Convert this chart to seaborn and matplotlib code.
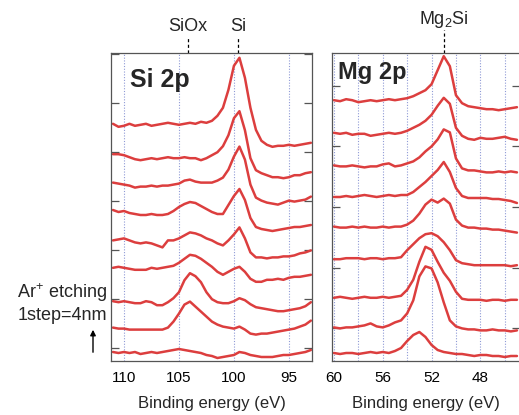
import numpy as np
import pandas as pd
import matplotlib
matplotlib.use("Agg")
import matplotlib.pyplot as plt
import seaborn as sns
from matplotlib.transforms import blended_transform_factory

# ---------------- data ----------------
# Si 2p binding energy grid (eV) and Mg 2p grid (eV)
si_energy = np.arange(111.0, 92.9, -0.5)
mg_energy = np.arange(60.0, 44.9, -0.5)

# Si 2p spectra (relative intensity, arb. units), step 0 = bottom (deepest)
si_step0 = [0,-1,0,-1,0,-2,-1,0,-1,0,1,2,3,2,1,0,-1,-3,-4,-6,-5,-4,-3,0,-1,-3,-4,-5,-5,-5,-4,-3,-3,-2,-1,0,2]
si_step1 = [-4,-5,-5,-6,-6,-6,-6,-6,-6,-6,-4,2,10,19,22,17,12,7,2,-1,-3,-4,-5,-3,-6,-10,-11,-10,-10,-9,-8,-7,-6,-5,-3,-1,3]
si_step2 = [-6,-7,-6,-7,-8,-8,-6,-7,-10,-10,-7,-3,3,15,22,19,13,3,-4,-7,-8,-8,-6,-3,-5,-9,-12,-13,-14,-15,-16,-16,-15,-14,-13,-11,-7]
si_step3 = [-1,0,-1,-2,-3,-3,-3,-1,-2,-1,0,1,4,8,12,11,8,4,0,-5,-8,-5,-2,0,-5,-12,-15,-15,-13,-13,-12,-13,-11,-10,-10,-9,-8]
si_step4 = [-2,-1,0,-2,-4,-5,-4,-5,-7,-9,-2,-2,0,3,6,5,3,0,-2,-5,-7,-2,4,11,0,-14,-19,-19,-20,-19,-19,-18,-18,-17,-15,-14,-12]
si_step5 = [0,-2,-1,-3,-4,-5,-5,-4,-5,-5,-4,-1,3,6,8,7,4,1,-2,-4,-4,5,14,21,10,-8,-17,-19,-20,-21,-20,-19,-18,-17,-17,-16,-15]
si_step6 = [-1,-2,-3,-4,-6,-5,-5,-4,-5,-4,-4,-3,-2,1,2,0,-1,-1,-1,1,4,12,25,35,22,-3,-16,-19,-21,-22,-23,-21,-19,-20,-19,-18,-15]
si_step7 = [-1,-1,-2,-4,-6,-7,-6,-5,-6,-5,-4,-5,-5,-4,-5,-5,-7,-5,-2,1,7,18,35,42,23,-5,-17,-20,-22,-24,-24,-25,-24,-22,-22,-20,-19]
si_step8 = [1,-2,-1,1,-1,0,1,-1,0,1,2,1,0,1,2,1,3,2,4,9,17,35,59,67,47,17,-5,-16,-20,-22,-21,-21,-20,-21,-20,-19,-18]

# Mg 2p spectra (relative intensity, arb. units), step 0 = bottom
mg_step0 = [0,-1,0,0,-1,0,1,0,1,0,2,5,12,18,21,16,8,3,1,0,-1,-1,-2,-3,-2,-2,-3,-3,-4,-3,-3]
mg_step1 = [-6,-7,-6,-6,-5,-4,-2,-5,-6,-4,-1,1,8,21,45,55,53,39,19,1,-5,-7,-8,-8,-9,-9,-8,-9,-9,-10,-9]
mg_step2 = [-8,-7,-8,-9,-8,-7,-8,-8,-7,-8,-7,-6,0,10,28,43,40,28,17,9,-2,-9,-10,-10,-10,-11,-10,-10,-11,-10,-10]
mg_step3 = [-1,-1,0,0,0,-1,0,0,-1,0,0,1,8,14,20,24,25,22,16,8,-2,-5,-6,-7,-7,-7,-7,-7,-7,-8,-7]
mg_step4 = [0,-1,-1,0,-1,0,-1,-1,0,-1,0,0,2,6,13,22,27,24,28,23,7,1,-1,-1,-2,-2,-3,-3,-4,-5,-6]
mg_step5 = [-2,-2,-1,-2,-1,0,-1,-2,-1,0,-1,0,0,3,8,13,19,25,33,23,7,-1,-3,-3,-3,-3,-4,-4,-5,-6,-8]
mg_step6 = [-2,-3,-3,-2,-3,-4,-3,-3,-1,0,-3,-2,0,2,6,12,17,24,34,31,5,-5,-7,-7,-8,-9,-9,-8,-9,-8,-9]
mg_step7 = [-1,-2,-1,-3,-2,-2,-4,-3,-2,-1,-2,-1,1,4,7,11,17,26,34,28,4,-4,-7,-8,-6,-7,-7,-6,-5,-7,-8]
mg_step8 = [0,-1,1,0,-2,-1,0,-1,0,1,0,1,2,4,7,10,16,30,44,34,5,-3,-6,-7,-8,-9,-9,-10,-9,-8,-7]

si_spectra = [si_step0, si_step1, si_step2, si_step3, si_step4,
              si_step5, si_step6, si_step7, si_step8]
mg_spectra = [mg_step0, mg_step1, mg_step2, mg_step3, mg_step4,
              mg_step5, mg_step6, mg_step7, mg_step8]

si_ticks = [110, 105, 100, 95]
mg_ticks = [60, 56, 52, 48]
mg_grid = [60, 58, 56, 54, 52, 50, 48, 46]

panel_titles = ["Si 2p", "Mg 2p"]
peak_labels_si = [("SiOx", 104.2), ("Si", 99.6)]
peak_labels_mg = [("Mg$_2$Si", 51.0)]
xlabel_text = "Binding energy (eV)"

# ---------------- style ----------------
sns.set_style("white")
plt.rcParams["font.family"] = ["Liberation Sans", "DejaVu Sans"]
plt.rcParams["mathtext.fontset"] = "custom"
plt.rcParams["mathtext.rm"] = "Liberation Sans"

LINE_C = "#dc3e3e"
GRID_C = "#8f9ad6"
SPINE_C = "#555555"

W, H = 519, 415
fig = plt.figure(figsize=(W / 100, H / 100), dpi=100)
fig.patch.set_facecolor("white")

ax1 = fig.add_axes([111 / W, (H - 361) / H, 201 / W, 308 / H])
ax2 = fig.add_axes([332 / W, (H - 361) / H, 188 / W, 308 / H])


def build_frame(energy, spectra, start, step):
    rows = []
    for i, spec in enumerate(spectra):
        for e, v in zip(energy, spec):
            rows.append({"energy": e, "intensity": v + start + step * i, "step": i})
    return pd.DataFrame(rows)


df_si = build_frame(si_energy, si_spectra, 9.0, 28.4)
df_mg = build_frame(mg_energy, mg_spectra, 8.0, 31.6)

for ax, df in ((ax1, df_si), (ax2, df_mg)):
    sns.lineplot(data=df, x="energy", y="intensity", units="step",
                 estimator=None, sort=False, color=LINE_C, lw=1.8,
                 ax=ax, legend=False)
    ax.set_ylim(0, 308)
    ax.set_ylabel("")
    ax.set_yticklabels([])
    for s in ax.spines.values():
        s.set_color(SPINE_C)
        s.set_linewidth(0.9)
    ax.tick_params(axis="x", length=0, pad=7, labelsize=11, colors="black")
    ax.tick_params(axis="y", direction="in", length=6, width=0.9,
                   color=SPINE_C, left=True, right=True, labelleft=False)
    ax.set_xlabel(xlabel_text, fontsize=12)
    ax.xaxis.set_label_coords(0.5, -0.115)

ax1.set_xlim(111.18, 92.9)
ax1.set_xticks(si_ticks)
ax1.set_xticklabels([str(t) for t in si_ticks])
ax1.set_yticks(np.arange(13, 310, 49))
for t in si_ticks:
    ax1.axvline(t, color=GRID_C, lw=0.8, ls=(0, (1, 1.5)), zorder=0)

ax2.set_xlim(60.16, 44.75)
ax2.set_xticks(mg_ticks)
ax2.set_xticklabels([str(t) for t in mg_ticks])
ax2.set_yticks(np.arange(33, 300, 60.5))
for t in mg_grid:
    ax2.axvline(t, color=GRID_C, lw=0.8, ls=(0, (1, 1.5)), zorder=0)

# panel titles
ax1.text(0.0945, 0.889, panel_titles[0], transform=ax1.transAxes,
         fontsize=18, fontweight="bold", va="baseline", ha="left")
ax2.text(0.032, 0.915, panel_titles[1], transform=ax2.transAxes,
         fontsize=17, fontweight="bold", va="baseline", ha="left")

# peak markers
tr1 = blended_transform_factory(ax1.transData, ax1.transAxes)
for name, e in peak_labels_si:
    ax1.plot([e, e], [1.0, 1.052], transform=tr1, color="black", lw=0.9,
             ls=(0, (2.5, 2)), clip_on=False)
    ax1.text(e, 1.086, name, transform=tr1, ha="center", va="center",
             fontsize=13)
tr2 = blended_transform_factory(ax2.transData, ax2.transAxes)
for name, e in peak_labels_mg:
    ax2.plot([e, e], [1.0, 1.075], transform=tr2, color="black", lw=0.9,
             ls=(0, (2.5, 2)), clip_on=False)
    ax2.text(e, 1.11, name, transform=tr2, ha="center", va="center",
             fontsize=13)

# etching annotation
fig.text(62 / W, 1 - 293 / H, "Ar$^{+}$ etching", ha="center", va="center",
         fontsize=13)
fig.text(62 / W, 1 - 315 / H, "1step=4nm", ha="center", va="center",
         fontsize=13)
fig.add_artist(matplotlib.patches.FancyArrowPatch(
    (93 / W, 1 - 355 / H), (93 / W, 1 - 327 / H), transform=fig.transFigure,
    arrowstyle="-|>", mutation_scale=8, lw=1.0, color="black"))

fig.savefig("out.png", dpi=100)
